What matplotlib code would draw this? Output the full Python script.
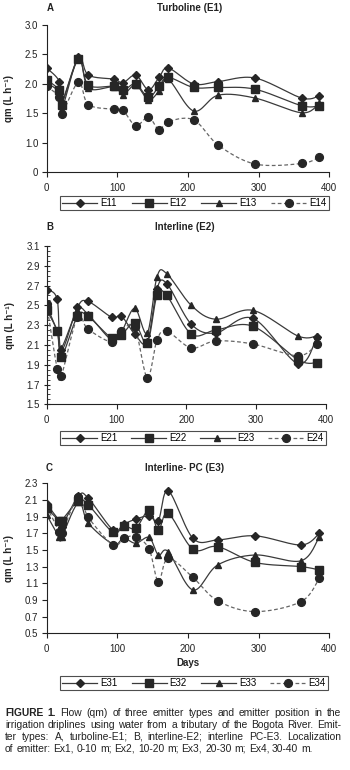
import numpy as np
import matplotlib
matplotlib.use("Agg")
import matplotlib.pyplot as plt
from matplotlib.lines import Line2D
from matplotlib import font_manager

# ---------------- data ----------------
days_A = [0, 18, 21, 45, 59, 95, 108, 126, 144, 159, 172, 208, 243, 295, 361, 386]
E11 = [2.27, 2.04, 1.68, 2.45, 2.15, 2.08, 2.02, 2.15, 1.90, 2.11, 2.27, 2.00, 2.04, 2.10, 1.76, 1.80]
E12 = [2.07, 1.89, 1.65, 2.42, 1.98, 1.96, 1.89, 2.00, 1.77, 1.96, 2.11, 1.94, 1.94, 1.91, 1.63, 1.63]
E13 = [2.02, 1.85, 1.55, 2.45, 1.93, 1.95, 1.82, 1.98, 1.73, 1.88, 2.08, 1.54, 1.81, 1.76, 1.51, 1.67]
E14 = [1.96, 1.77, 1.49, 2.03, 1.65, 1.57, 1.55, 1.29, 1.44, 1.22, 1.36, 1.39, 0.96, 0.64, 0.65, 0.76]

days_B = [0, 15, 21, 44, 59, 93, 107, 126, 144, 158, 172, 207, 242, 295, 360, 387]
E21 = [2.66, 2.56, 2.05, 2.48, 2.54, 2.38, 2.39, 2.21, 2.13, 2.67, 2.72, 2.31, 2.22, 2.37, 1.91, 2.18]
E22 = [2.45, 2.24, 1.98, 2.39, 2.39, 2.17, 2.20, 2.32, 2.12, 2.60, 2.60, 2.21, 2.25, 2.29, 1.95, 1.92]
E23 = [2.50, 2.24, 2.07, 2.45, 2.41, 2.15, 2.23, 2.47, 2.22, 2.79, 2.82, 2.50, 2.36, 2.45, 2.19, 2.19]
E24 = [2.51, 1.86, 1.79, 2.38, 2.26, 2.13, 2.24, 2.28, 1.77, 2.15, 2.24, 2.07, 2.14, 2.11, 1.99, 2.11]

days_C = [0, 18, 21, 45, 59, 94, 109, 126, 145, 158, 172, 207, 242, 295, 360, 386]
E31 = [2.05, 1.85, 1.78, 2.15, 2.12, 1.74, 1.81, 1.87, 1.91, 1.85, 2.21, 1.64, 1.62, 1.67, 1.56, 1.70]
E32 = [2.00, 1.85, 1.85, 2.09, 2.04, 1.71, 1.79, 1.76, 1.98, 1.74, 1.94, 1.51, 1.54, 1.35, 1.30, 1.26]
E33 = [1.92, 1.65, 1.65, 2.07, 1.82, 1.57, 1.64, 1.58, 1.65, 1.44, 1.48, 1.02, 1.32, 1.44, 1.37, 1.66]
E34 = [2.02, 1.72, 1.70, 2.14, 1.89, 1.56, 1.64, 1.66, 1.51, 1.12, 1.40, 1.17, 0.89, 0.76, 0.88, 1.16]

yticks_A = [0.5, 1.0, 1.5, 2.0, 2.5, 3.0]
yticklabels_A = ["0", "1.0", "1.5", "2.0", "2.5", "3.0"]
yticks_B = [1.5, 1.7, 1.9, 2.1, 2.3, 2.5, 2.7, 2.9, 3.1]
yticks_C = [0.5, 0.7, 0.9, 1.1, 1.3, 1.5, 1.7, 1.9, 2.1, 2.3]
xticks = [0, 100, 200, 300, 400]

# ---------------- style ----------------
avail = {f.name for f in font_manager.fontManager.ttflist}
NARROW = [f for f in ["Liberation Sans Narrow", "Liberation Sans"] if f in avail] + ["DejaVu Sans"]
plt.rcParams["font.family"] = NARROW
CAPFONT = ["Liberation Sans", "DejaVu Sans"]

W, H = 350, 770
fig = plt.figure(figsize=(W / 100, H / 100), dpi=100)

LINE_C = "#3a3a3a"
DASH_C = "#666666"
MK_C = "#262626"


def smooth(x, y, n=16):
    x = np.asarray(x, float)
    y = np.asarray(y, float)
    P = np.column_stack([x, y])
    Pe = np.vstack([P[0], P, P[-1]])
    out = [P[0]]
    t = np.linspace(0, 1, n + 1)[1:]
    for i in range(len(P) - 1):
        p0, p1, p2, p3 = Pe[i], Pe[i + 1], Pe[i + 2], Pe[i + 3]
        c1 = p1 + (p2 - p0) / 6.0
        c2 = p2 - (p3 - p1) / 6.0
        b = ((1 - t) ** 3)[:, None] * p1 + (3 * (1 - t) ** 2 * t)[:, None] * c1 \
            + (3 * (1 - t) * t ** 2)[:, None] * c2 + (t ** 3)[:, None] * p2
        out.extend(b)
    out = np.array(out)
    return out[:, 0], out[:, 1]


def px_axes(left, right, top, bottom):
    return fig.add_axes([left / W, 1 - bottom / H, (right - left) / W, (bottom - top) / H])


styles = [
    dict(marker="D", ms=4.0, ls="-", lc=LINE_C),
    dict(marker="s", ms=5.8, ls="-", lc=LINE_C),
    dict(marker="^", ms=5.0, ls="-", lc=LINE_C),
    dict(marker="o", ms=5.6, ls=(0, (3, 2)), lc=DASH_C),
]


def draw_panel(ax, days, series):
    for s, st in zip(series, styles):
        xs, ys = smooth(days, s)
        ax.plot(xs, ys, color=st["lc"], lw=0.9, ls=st["ls"], zorder=2)
    for s, st in zip(series, styles):
        ax.plot(days, s, ls="none", marker=st["marker"], ms=st["ms"],
                color=MK_C, mec=MK_C, zorder=3)
    ax.set_xlim(0, 400)
    ax.set_xticks(xticks)
    ax.set_xticklabels([str(v) for v in xticks])
    for sp in ["top", "right"]:
        ax.spines[sp].set_visible(False)
    for sp in ["left", "bottom"]:
        ax.spines[sp].set_color("#222222")
        ax.spines[sp].set_linewidth(0.8)
    ax.tick_params(axis="both", labelsize=7, colors="#222222", width=0.8, length=3.5, pad=2.5)
    ax.tick_params(axis="x", pad=4)
    ax.set_ylabel("qm (L h⁻¹)", fontsize=7, fontweight="bold", color="#222222")
    ax.yaxis.set_label_coords(-0.115, 0.5)


def add_legend(names, top, bottom, left=60, right=329):
    handles = []
    for st in styles:
        handles.append(Line2D([], [], color=st["lc"], lw=0.9,
                              ls=st["ls"], marker=st["marker"], ms=st["ms"],
                              mfc=MK_C, mec=MK_C))
    leg = fig.legend(handles, names, loc="center left",
                     bbox_to_anchor=(left / W, 1 - bottom / H, (right - left) / W, (bottom - top) / H),
                     mode="expand", ncol=4, fontsize=7, frameon=True, fancybox=False,
                     handlelength=3.6, handletextpad=0.3, borderpad=0.25, borderaxespad=0,
                     columnspacing=0.8)
    fr = leg.get_frame()
    fr.set_edgecolor("#222222")
    fr.set_linewidth(0.8)
    return leg


# Panel A
axA = px_axes(46.7, 329.3, 25, 172.3)
draw_panel(axA, days_A, [E11, E12, E13, E14])
axA.set_ylim(0.5, 3.0)
axA.set_yticks(yticks_A)
axA.set_yticklabels(yticklabels_A)
add_legend(["E11", "E12", "E13", "E14"], 195, 211)
fig.text(50 / W, 1 - 8 / H, "A", fontsize=7, fontweight="bold", ha="center", va="center", color="#222222")
fig.text(190 / W, 1 - 8 / H, "Turboline (E1)", fontsize=7, fontweight="bold", ha="center", va="center", color="#222222")

# Panel B
axB = px_axes(46.7, 326, 246, 404.3)
draw_panel(axB, days_B, [E21, E22, E23, E24])
axB.set_ylim(1.5, 3.1)
axB.set_yticks(yticks_B)
axB.set_yticklabels([f"{v:.1f}" for v in yticks_B])
axB.set_yticks(np.arange(1.5, 3.1001, 0.05), minor=True)
axB.tick_params(axis="y", which="major", direction="inout", length=5)
axB.tick_params(axis="y", which="minor", direction="in", length=2.5, width=0.6, colors="#222222")
add_legend(["E21", "E22", "E23", "E24"], 430, 446, right=326)
fig.text(50 / W, 1 - 227 / H, "B", fontsize=7, fontweight="bold", ha="center", va="center", color="#222222")
fig.text(185 / W, 1 - 227 / H, "Interline (E2)", fontsize=7, fontweight="bold", ha="center", va="center", color="#222222")

# Panel C
axC = px_axes(46.7, 329.3, 483.3, 633.3)
draw_panel(axC, days_C, [E31, E32, E33, E34])
axC.set_ylim(0.5, 2.3)
axC.set_yticks(yticks_C)
axC.set_yticklabels([f"{v:.1f}" for v in yticks_C])
axC.set_xlabel("Days", fontsize=7, fontweight="bold", color="#222222", labelpad=3)
add_legend(["E31", "E32", "E33", "E34"], 675, 691, right=328)
fig.text(49 / W, 1 - 468 / H, "C", fontsize=7, fontweight="bold", ha="center", va="center", color="#222222")
fig.text(185 / W, 1 - 468 / H, "Interline- PC (E3)", fontsize=7, fontweight="bold", ha="center", va="center", color="#222222")

# Caption (justified)
caption_lines = [
    ([("FIGURE", True), ("1.", True), ("Flow", False), ("(qm)", False), ("of", False), ("three", False),
      ("emitter", False), ("types", False), ("and", False), ("emitter", False), ("position", False),
      ("in", False), ("the", False)], True),
    ([(w, False) for w in "irrigation driplines using water from a tributary of the Bogota River. Emit-".split()], True),
    ([(w, False) for w in "ter types: A, turboline-E1; B, interline-E2; interline PC-E3. Localization".split()], True),
    ([(w, False) for w in "of emitter: Ex1, 0-10 m; Ex2, 10-20 m; Ex3, 20-30 m; Ex4, 30-40 m.".split()], False),
]
baselines = [715.5, 727.5, 739.5, 751.5]
x0c, x1c = 5.0, 341.0
CAP_FS = 7.4
renderer = fig.canvas.get_renderer()
sp = fig.text(0, 0, "a a", fontsize=CAP_FS, family=CAPFONT)
sp2 = fig.text(0, 0, "aa", fontsize=CAP_FS, family=CAPFONT)
space_w = sp.get_window_extent(renderer).width - sp2.get_window_extent(renderer).width
sp.remove(); sp2.remove()
for (words, just), yb in zip(caption_lines, baselines):
    texts = []
    for w, b in words:
        t = fig.text(0, 1 - yb / H, w, fontsize=CAP_FS, fontweight="bold" if b else "normal",
                     family=CAPFONT, color="#222222", va="baseline", ha="left")
        texts.append(t)
    widths = [t.get_window_extent(renderer).width for t in texts]
    if just and len(texts) > 1:
        gap = (x1c - x0c - sum(widths)) / (len(texts) - 1)
        gap = max(gap, 0.6 * space_w)
    else:
        gap = space_w
    x = x0c
    for t, wd in zip(texts, widths):
        t.set_x(x / W)
        x += wd + gap

fig.savefig("out.png", dpi=100)
